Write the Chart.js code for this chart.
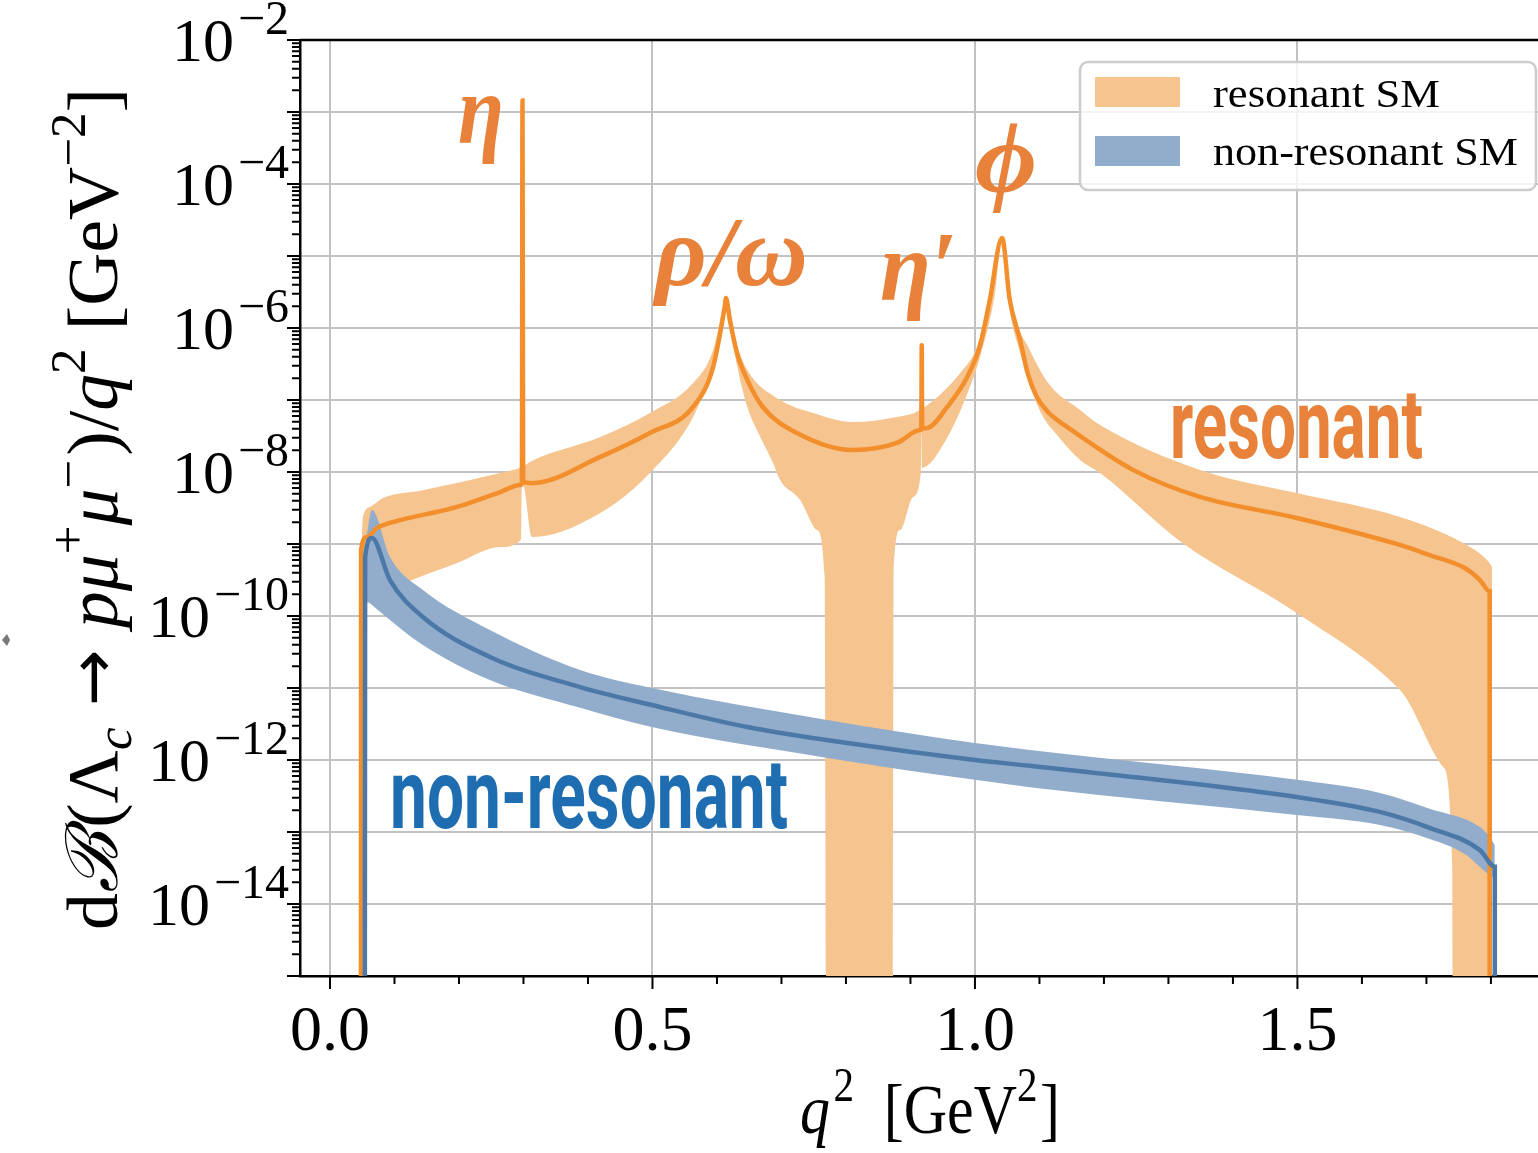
<!DOCTYPE html>
<html lang="en">
<head>
<meta charset="UTF-8" />
<title>Lambda_c to p mu mu</title>
<style>
  * { margin: 0; padding: 0; box-sizing: border-box; }
  body { background: #fff; }
  #grafico { width: 1538px; height: 1153px; }
</style>
</head>
<body>
<div id="grafico"><canvas id="grafico1" width="1538" height="1153"></canvas></div>

<script src="https://cdn.jsdelivr.net/npm/chart.js"></script>
<script>
// resonant SM: central curve and band (q^2 in GeV^2, dB/dq^2 in GeV^-2)
const resLineQ = [0.048, 0.0482, 0.057, 0.073, 0.093, 0.197, 0.264, 0.295, 0.2975, 0.2985, 0.2995, 0.301, 0.313, 0.419, 0.496, 0.563, 0.594, 0.612, 0.614, 0.620, 0.631, 0.647, 0.671, 0.724, 0.811, 0.879, 0.915, 0.9168, 0.9175, 0.9182, 0.926, 0.957, 0.988, 1.008, 1.023, 1.042, 1.054, 1.070, 1.082, 1.096, 1.112, 1.127, 1.143, 1.245, 1.349, 1.499, 1.659, 1.705, 1.760, 1.783, 1.798, 1.798]
const resLineV = [1e-16, 8.3e-10, 1.25e-9, 1.67e-9, 1.96e-9, 3.27e-9, 5.27e-9, 6.6e-9, 6.9e-9, 1.45e-3, 7.6e-9, 7.2e-9, 7.0e-9, 1.62e-8, 3.48e-8, 8.0e-8, 2.87e-7, 1.96e-6, 2.6e-6, 1.29e-6, 4.5e-7, 1.9e-7, 8.0e-8, 3.48e-8, 2.02e-8, 2.53e-8, 3.83e-8, 3.95e-8, 5.75e-7, 4.05e-8, 4.08e-8, 8.0e-8, 2.08e-7, 5.8e-7, 2.45e-6, 1.78e-5, 2.45e-6, 6.8e-7, 2.3e-7, 1.1e-7, 7.0e-8, 5.3e-8, 4.2e-8, 1.07e-8, 4.5e-9, 2.3e-9, 9.7e-10, 7.0e-10, 4.6e-10, 3.16e-10, 2.2e-10, 1e-16]

const resHighQ = [0.0496, 0.051, 0.062, 0.082, 0.144, 0.264, 0.298, 0.310, 0.419, 0.496, 0.563, 0.594, 0.612, 0.614, 0.631, 0.647, 0.698, 0.749, 0.811, 0.879, 0.915, 0.981, 1.003, 1.023, 1.042, 1.059, 1.085, 1.116, 1.163, 1.194, 1.349, 1.499, 1.659, 1.757, 1.794, 1.802]
const resHighV = [1.42e-9, 2.37e-9, 3.27e-9, 4.35e-9, 5.6e-9, 9.7e-9, 1.17e-8, 1.38e-8, 3.06e-8, 6.6e-8, 1.72e-7, 4.95e-7, 2.45e-6, 2.8e-6, 5.8e-7, 2.61e-7, 1.0e-7, 6.6e-8, 4.94e-8, 5.8e-8, 7.26e-8, 2.61e-7, 5.45e-7, 2.6e-6, 1.9e-5, 1.8e-6, 4.95e-7, 1.61e-7, 7.26e-8, 4.5e-8, 1.07e-8, 5.1e-9, 2.37e-9, 1.03e-9, 6.0e-10, 4.8e-10]

const resLowQ = [0.0496, 0.059, 0.093, 0.197, 0.264, 0.2960, 0.2975, 0.3005, 0.313, 0.419, 0.496, 0.563, 0.584, 0.605, 0.614, 0.631, 0.647, 0.662, 0.687, 0.698, 0.729, 0.755, 0.767, 0.770, 0.873, 0.874, 0.884, 0.904, 0.9162, 0.9170, 0.9178, 0.957, 0.992, 1.008, 1.031, 1.042, 1.054, 1.070, 1.100, 1.130, 1.163, 1.194, 1.322, 1.499, 1.659, 1.726, 1.740, 1.741, 1.802]
const resLowV = [1.8e-10, 1.5e-10, 2.3e-10, 5.45e-10, 9.1e-10, 1.14e-9, 6.5e-9, 6.2e-9, 1.25e-9, 2.7e-9, 9.7e-9, 5.8e-8, 1.72e-7, 8.5e-7, 2.45e-6, 3.06e-7, 8.0e-8, 3.83e-8, 1.33e-8, 7.7e-9, 4.1e-9, 1.56e-9, 3.48e-10, 1e-16, 1e-16, 4.8e-10, 1.56e-9, 4.5e-9, 1.0e-8, 3.6e-8, 1.15e-8, 3.0e-8, 1.5e-7, 4.0e-7, 3.0e-6, 1.67e-5, 1.78e-6, 4.6e-7, 7.3e-8, 3.06e-8, 1.47e-8, 9.7e-9, 1.03e-9, 1.1e-10, 9.4e-12, 8.0e-13, 3.27e-14, 1e-16, 1e-16]

// non-resonant SM
const nonLineQ = [0.054, 0.0545, 0.065, 0.093, 0.144, 0.248, 0.388, 0.499, 0.647, 0.802, 1.0, 1.085, 1.499, 1.628, 1.705, 1.783, 1.806, 1.806]
const nonLineV = [1e-16, 6.6e-10, 1.21e-9, 3.16e-10, 9.7e-11, 2.7e-11, 1.03e-11, 5.8e-12, 2.87e-12, 1.72e-12, 1.0e-12, 8.3e-13, 3.06e-13, 1.9e-13, 1.14e-13, 5.6e-14, 3.3e-14, 1e-16]

const nonHighQ = [0.0558, 0.065, 0.093, 0.144, 0.248, 0.388, 0.499, 0.771, 1.0, 1.085, 1.499, 1.628, 1.705, 1.783, 1.798, 1.806]
const nonHighV = [1.14e-9, 2.97e-9, 6.6e-10, 2.3e-10, 6.4e-11, 1.78e-11, 1.0e-11, 3.6e-12, 1.72e-12, 1.38e-12, 5.3e-13, 3.48e-13, 2.1e-13, 1.17e-13, 8.5e-14, 6.6e-14]
const nonLowQ = [0.0558, 0.078, 0.144, 0.248, 0.388, 0.499, 0.771, 1.0, 1.085, 1.499, 1.628, 1.705, 1.757, 1.798, 1.806]
const nonLowV = [1.67e-10, 1.14e-10, 3.95e-11, 1.29e-11, 5.3e-12, 2.87e-12, 1.07e-12, 5.3e-13, 4.2e-13, 1.72e-13, 1.25e-13, 8.0e-14, 5.1e-14, 2.53e-14, 2.3e-14]

// axes
const xTicks = [0, 0.5, 1.0, 1.5]
const xTickLabels = ['0.0', '0.5', '1.0', '1.5']
const xMinorTicks = [0.1, 0.2, 0.3, 0.4, 0.6, 0.7, 0.8, 0.9, 1.1, 1.2, 1.3, 1.4, 1.6, 1.7, 1.8]
const yDecades = [-15, -14, -13, -12, -11, -10, -9, -8, -7, -6, -5, -4, -3, -2]
const yLabelExps = [-2, -4, -6, -8, -10, -12, -14]

const legendLabels = ['resonant SM', 'non-resonant SM']

const orangeLine = '#f28e2b'
const orangeBand = '#f5c48f'
const blueLine = '#4c78a8'
const blueBand = '#92adcc'
const labelOrange = '#e8823a'
const labelBlue = '#1f6db1'
const SERIF = '"Liberation Serif", "DejaVu Serif", serif'

const pts = (qs, vs) => qs.map((q, i) => ({ x: q, y: vs[i] }))

function drawRich(ctx, runs, x, y, align, fitW) {
  let w = 0
  runs.forEach(r => { ctx.font = r.font; r.w = ctx.measureText(r.t).width + (r.gap || 0); w += r.w })
  const sx = fitW ? fitW / w : 1
  ctx.save()
  ctx.translate(x, y)
  ctx.scale(sx, 1)
  let cx = align === 'center' ? -w / 2 : align === 'right' ? -w : 0
  ctx.textAlign = 'left'
  ctx.textBaseline = 'alphabetic'
  runs.forEach(r => {
    ctx.font = r.font
    ctx.fillText(r.t, cx + (r.gap || 0), r.dy || 0)
    cx += r.w
  })
  ctx.restore()
}

const decor = {
  id: 'decor',
  afterDraw(chart) {
    const ctx = chart.ctx
    const a = chart.chartArea
    const xs = chart.scales.x
    const ys = chart.scales.y
    ctx.save()
    ctx.fillStyle = '#000'
    ctx.strokeStyle = '#000'

    // top spine
    ctx.lineWidth = 2.5
    ctx.beginPath()
    ctx.moveTo(a.left, a.top)
    ctx.lineTo(a.right, a.top)
    ctx.stroke()

    // tick marks
    ctx.lineWidth = 2
    ctx.beginPath()
    xTicks.forEach(v => { const px = xs.getPixelForValue(v); ctx.moveTo(px, a.bottom); ctx.lineTo(px, a.bottom + 13) })
    xMinorTicks.forEach(v => { const px = xs.getPixelForValue(v); ctx.moveTo(px, a.bottom); ctx.lineTo(px, a.bottom + 8) })
    yDecades.forEach(e => {
      const py = ys.getPixelForValue(Math.pow(10, e))
      ctx.moveTo(a.left, py); ctx.lineTo(a.left - 13, py)
      if (e < -2) {
        for (let k = 2; k <= 9; k++) {
          const pm = ys.getPixelForValue(k * Math.pow(10, e))
          ctx.moveTo(a.left, pm); ctx.lineTo(a.left - 8, pm)
        }
      }
    })
    ctx.stroke()

    // tick labels
    xTicks.forEach((v, i) => {
      drawRich(ctx, [{ t: xTickLabels[i], font: `64px ${SERIF}` }], xs.getPixelForValue(v), 1050, 'center')
    })
    yLabelExps.forEach(e => {
      const py = ys.getPixelForValue(Math.pow(10, e))
      drawRich(ctx, [
        { t: '10', font: `62px ${SERIF}` },
        { t: '\u2212' + Math.abs(e), font: `48px ${SERIF}`, dy: -27, gap: 4 }
      ], 289, py + 21, 'right')
    })

    // axis titles
    drawRich(ctx, [
      { t: 'q', font: `italic 70px ${SERIF}` },
      { t: '2', font: `48px ${SERIF}`, dy: -32, gap: 4 },
      { t: '  [GeV', font: `70px ${SERIF}` },
      { t: '2', font: `48px ${SERIF}`, dy: -32 },
      { t: ']', font: `70px ${SERIF}`, gap: 3 }
    ], 930, 1133, 'center', 260)

    ctx.save()
    ctx.translate(117, 509)
    ctx.rotate(-Math.PI / 2)
    drawRich(ctx, [
      { t: 'd', font: `72px ${SERIF}` },
      { t: '\u212C', font: `italic 72px ${SERIF}` },
      { t: '(\u039B', font: `72px ${SERIF}`, gap: 4 },
      { t: 'c', font: `italic 50px ${SERIF}`, dy: 14 },
      { t: ' \u2192 ', font: '66px "DejaVu Sans"', dy: -2 },
      { t: 'p\u03BC', font: `italic 72px ${SERIF}` },
      { t: '+', font: `50px ${SERIF}`, dy: -32 },
      { t: '\u03BC', font: `italic 72px ${SERIF}` },
      { t: '\u2212', font: `50px ${SERIF}`, dy: -32 },
      { t: ')/', font: `72px ${SERIF}`, gap: 4 },
      { t: 'q', font: `italic 72px ${SERIF}` },
      { t: '2', font: `50px ${SERIF}`, dy: -32 },
      { t: ' [GeV', font: `72px ${SERIF}` },
      { t: '\u22122', font: `50px ${SERIF}`, dy: -32 },
      { t: ']', font: `72px ${SERIF}` }
    ], 0, 0, 'center', 842)
    ctx.restore()

    // peak annotations
    ctx.fillStyle = labelOrange
    const gf = `italic bold 100px ${SERIF}`
    drawRich(ctx, [{ t: '\u03B7', font: gf }], 458, 143, 'left', 46)
    drawRich(ctx, [{ t: '\u03C1/\u03C9', font: gf }], 655, 285, 'left', 153)
    drawRich(ctx, [{ t: '\u03B7\u2032', font: gf }], 880, 300, 'left', 77)
    drawRich(ctx, [{ t: '\u03D5', font: gf }], 975, 192, 'left', 62)
    drawRich(ctx, [{ t: 'resonant', font: 'bold 98px Roboto' }], 1170, 458, 'left', 253)
    ctx.fillStyle = labelBlue
    drawRich(ctx, [{ t: 'non-resonant', font: 'bold 98px Roboto' }], 390, 828, 'left', 398)

    // legend
    ctx.beginPath()
    ctx.roundRect(1080, 62, 456, 128, 8)
    ctx.fillStyle = 'rgba(255,255,255,0.8)'
    ctx.fill()
    ctx.strokeStyle = '#cccccc'
    ctx.lineWidth = 2.5
    ctx.stroke()
    ctx.fillStyle = orangeBand
    ctx.fillRect(1095, 77, 85, 30)
    ctx.fillStyle = blueBand
    ctx.fillRect(1095, 136, 85, 30)
    ctx.fillStyle = '#000'
    drawRich(ctx, [{ t: legendLabels[0], font: `40px ${SERIF}` }], 1213, 107, 'left', 227)
    drawRich(ctx, [{ t: legendLabels[1], font: `40px ${SERIF}` }], 1213, 165, 'left', 305)

    // small grey mark at the left edge
    ctx.fillStyle = '#777'
    ctx.beginPath()
    ctx.moveTo(2, 640); ctx.lineTo(7, 634); ctx.lineTo(10, 640); ctx.lineTo(7, 646); ctx.closePath()
    ctx.fill()
    ctx.restore()
  }
}

const ctx = document.getElementById('grafico1')

const bandEdge = { borderWidth: 0, borderColor: 'rgba(0,0,0,0)', pointRadius: 0, cubicInterpolationMode: 'monotone' }

let grafico1 = new Chart(ctx, {
  type: 'line',
  data: {
    datasets: [
      { label: 'non-resonant line', data: pts(nonLineQ, nonLineV), borderColor: blueLine, borderWidth: 4.5, pointRadius: 0, fill: false, order: 0, cubicInterpolationMode: 'monotone' },
      { label: 'resonant line', data: pts(resLineQ, resLineV), borderColor: orangeLine, borderWidth: 4.5, pointRadius: 0, fill: false, order: 1, cubicInterpolationMode: 'monotone' },
      { label: 'non-resonant high', data: pts(nonHighQ, nonHighV), ...bandEdge, fill: '+1', backgroundColor: blueBand, order: 2 },
      { label: 'non-resonant low', data: pts(nonLowQ, nonLowV), ...bandEdge, fill: false, order: 3 },
      { label: 'resonant high', data: pts(resHighQ, resHighV), ...bandEdge, fill: '+1', backgroundColor: orangeBand, order: 4 },
      { label: 'resonant low', data: pts(resLowQ, resLowV), ...bandEdge, fill: false, order: 5 }
    ]
  },
  options: {
    responsive: false,
    animation: false,
    devicePixelRatio: 1,
    layout: { padding: { top: 40, left: 0, right: 0, bottom: 0 } },
    plugins: { legend: { display: false }, tooltip: { enabled: false } },
    scales: {
      x: {
        type: 'linear',
        min: -0.0465,
        max: 1.873,
        afterBuildTicks: s => { s.ticks = xTicks.map(v => ({ value: v })) },
        afterFit: s => { s.height = 177 },
        ticks: { display: false },
        grid: { color: '#c2c2c2', lineWidth: 2, drawTicks: false },
        border: { color: '#000', width: 2.5 }
      },
      y: {
        type: 'logarithmic',
        min: 1e-15,
        max: 1e-2,
        afterBuildTicks: s => { s.ticks = yDecades.map(e => ({ value: Math.pow(10, e) })) },
        afterFit: s => { s.width = 300 },
        ticks: { display: false },
        grid: { color: '#c2c2c2', lineWidth: 2, drawTicks: false },
        border: { color: '#000', width: 2.5 }
      }
    }
  },
  plugins: [decor]
})
</script>
</body>
</html>
